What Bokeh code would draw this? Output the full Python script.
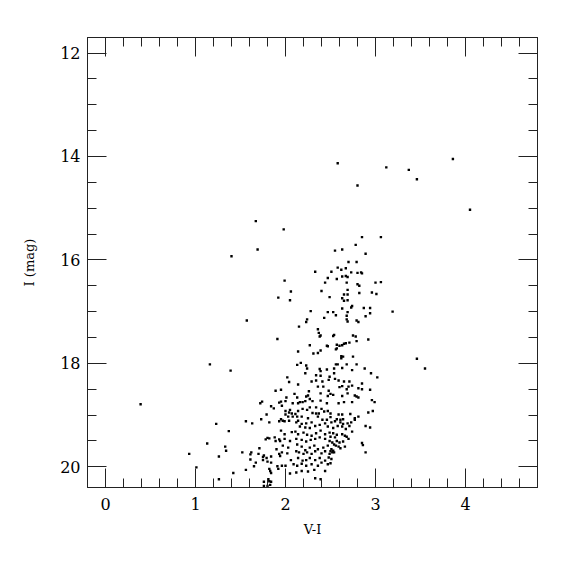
from bokeh.plotting import figure
from bokeh.models import Range1d, LinearAxis, SingleIntervalTicker, CustomJSTickFormatter
from bokeh.embed import file_html
from bokeh.resources import INLINE

# V-I colour and I magnitude of each star
vi = [2.58, 2.80, 3.12, 3.37, 3.46, 3.86, 4.05, 1.67, 1.98, 1.40, 1.69, 2.85, 3.06, 2.78, 2.55, 2.63, 2.89, 2.70, 2.79, 2.33,
      2.58, 2.62, 2.67, 2.51, 2.73, 2.80, 2.84, 2.85, 2.67, 2.63, 2.69, 2.47, 2.57, 2.68, 2.44, 1.99, 2.80, 2.82, 3.00, 3.06,
      2.06, 2.40, 2.69, 2.82, 2.96, 3.01, 2.65, 2.69, 1.92, 2.05, 2.49, 2.63, 2.65, 2.69, 2.74, 2.73, 2.63, 2.87, 2.94, 3.19,
      2.28, 2.47, 2.53, 2.69, 2.56, 2.94, 2.89, 2.68, 2.43, 2.24, 2.23, 2.68, 2.69, 2.79, 2.81, 2.15, 2.36, 2.37, 2.39, 2.38,
      2.54, 2.53, 2.75, 2.78, 1.91, 2.92, 2.79, 2.71, 2.67, 2.65, 2.63, 2.46, 2.47, 2.57, 2.60, 2.57, 2.56, 2.27, 2.39, 2.36,
      2.31, 2.14, 2.62, 2.64, 2.62, 2.75, 3.46, 3.55, 2.13, 2.17, 2.23, 2.24, 2.38, 2.46, 2.56, 2.58, 2.54, 2.68, 2.79, 2.74,
      2.88, 1.57, 1.16, 1.39, 0.39, 1.23, 1.37, 1.13, 1.33, 1.34, 0.93, 1.26, 1.01, 1.26, 1.42, 1.56, 1.76, 1.76, 1.81, 1.82,
      1.84, 1.80, 1.83, 1.56, 1.63, 1.82, 1.78, 1.80, 1.82, 1.88, 1.93, 1.89, 1.71, 1.90, 1.52, 1.62, 1.61, 1.70, 1.76, 1.75,
      1.84, 1.79, 1.93, 1.94, 1.61, 1.67, 1.65, 1.75, 1.80, 1.84, 1.91, 1.82, 1.83, 1.84, 1.92, 2.02, 2.04, 1.89, 1.95, 2.01,
      2.00, 1.95, 1.93, 1.96, 1.72, 1.74, 1.84, 1.87, 2.00, 2.04, 2.00, 1.79, 1.73, 1.95, 1.97, 2.04,
      2.39, 2.22, 2.34, 2.39, 2.49, 2.54, 2.63, 2.55, 2.14, 2.29, 2.34, 2.41, 2.48, 2.59, 2.65, 2.36, 2.42, 2.63, 2.60, 2.26,
      2.25, 2.23, 2.10, 2.13, 2.27, 2.39, 2.48, 2.50, 2.53, 2.47, 2.63, 2.22, 2.16, 2.19, 2.14, 2.08, 2.30, 2.39, 2.46, 2.59,
      2.65, 2.34, 2.05, 2.07, 2.11, 2.14, 2.19, 2.24, 2.27, 2.30, 2.34, 2.37, 2.40, 2.43, 2.47, 2.50, 2.59, 2.63, 2.03, 2.08,
      2.13, 2.18, 2.25, 2.36, 2.41, 2.46, 2.50, 2.57, 2.61, 2.64, 2.14,
      2.95, 3.02, 2.71, 2.74, 2.85, 2.81, 2.94, 2.70, 2.68, 2.69, 2.77, 2.81, 2.85, 2.74, 2.79, 2.96, 2.99, 2.72, 2.77, 2.81,
      2.92, 2.97, 2.71, 2.77, 2.89, 2.94, 2.85, 2.86, 2.89,
      2.51, 2.55, 2.61, 2.64, 2.69, 2.73, 2.58, 2.63, 2.67, 2.74, 2.53, 2.53, 2.57, 2.63, 2.66, 2.68, 2.50, 2.55, 2.57, 2.60,
      2.64, 2.70, 2.52, 2.54, 2.56, 2.59, 2.61, 2.66, 2.51, 2.53, 2.54, 2.52, 2.50, 2.51, 2.50,
      2.12, 2.18, 2.23, 2.29, 2.16, 2.22, 2.27, 2.33, 2.38, 2.44, 2.47, 1.93, 1.99, 1.95, 1.99, 2.07, 2.11, 2.14, 2.20, 2.24,
      2.29, 2.34, 2.39, 2.44, 2.49, 1.94, 1.99, 2.05, 2.12, 2.18, 2.23, 2.28, 2.33, 2.38, 2.44, 2.49, 1.97, 2.03, 2.13, 2.18,
      2.22, 2.27, 2.32, 2.36, 2.42, 2.47, 1.96, 2.02, 2.12, 2.15, 2.20, 2.24, 2.29, 2.33, 2.40, 2.44, 2.49, 2.06, 2.14, 2.19,
      2.23, 2.27, 2.33, 2.38, 2.44, 2.48, 1.96, 2.00, 2.09, 2.13, 2.18, 2.23, 2.29, 2.36, 2.40, 2.47, 2.05, 2.12, 2.18, 2.25,
      2.32, 2.44, 2.33, 2.39]

imag = [14.13, 14.56, 14.21, 14.26, 14.44, 14.05, 15.03, 15.25, 15.41, 15.93, 15.80, 15.56, 15.56, 15.71, 15.82, 15.80, 15.88, 16.04, 16.04, 16.23,
        16.15, 16.19, 16.16, 16.23, 16.24, 16.25, 16.24, 16.26, 16.31, 16.32, 16.33, 16.35, 16.37, 16.44, 16.44, 16.40, 16.47, 16.50, 16.44, 16.43,
        16.61, 16.60, 16.58, 16.64, 16.63, 16.66, 16.67, 16.67, 16.73, 16.78, 16.72, 16.74, 16.79, 16.78, 16.89, 16.92, 16.94, 16.93, 16.93, 17.00,
        16.99, 17.01, 17.01, 17.01, 17.07, 17.03, 17.09, 17.08, 17.12, 17.15, 17.20, 17.15, 17.19, 17.17, 17.20, 17.29, 17.34, 17.41, 17.46, 17.48,
        17.45, 17.47, 17.46, 17.48, 17.53, 17.54, 17.57, 17.60, 17.61, 17.62, 17.65, 17.66, 17.67, 17.64, 17.66, 17.71, 17.73, 17.65, 17.75, 17.80,
        17.81, 17.77, 17.86, 17.87, 17.90, 17.87, 17.91, 18.10, 18.03, 17.99, 18.04, 18.10, 18.11, 18.12, 18.02, 18.02, 18.10, 18.02, 18.02, 18.13,
        18.10, 17.17, 18.02, 18.14, 18.79, 19.17, 19.31, 19.55, 19.61, 19.69, 19.75, 19.80, 20.01, 20.24, 20.12, 20.06, 20.29, 20.37, 20.24, 20.28,
        20.29, 20.37, 20.35, 19.12, 19.16, 19.14, 19.47, 19.44, 19.45, 19.43, 19.47, 19.50, 19.64, 19.66, 19.72, 19.72, 19.76, 19.75, 19.78, 19.81,
        19.80, 19.83, 19.75, 19.79, 19.86, 19.92, 19.99, 19.87, 19.90, 19.92, 19.99, 20.04, 20.08, 20.12, 20.04, 18.27, 18.36, 18.53, 18.51, 18.66,
        18.73, 18.74, 18.76, 18.82, 18.77, 18.74, 18.83, 18.87, 18.92, 18.95, 18.99, 18.99, 19.08, 19.08, 19.11, 19.11,
        18.15, 18.19, 18.23, 18.24, 18.26, 18.19, 18.09, 18.30, 18.41, 18.35, 18.33, 18.35, 18.32, 18.33, 18.35, 18.45, 18.45, 18.44, 18.46, 18.54,
        18.62, 18.64, 18.59, 18.66, 18.69, 18.58, 18.53, 18.59, 18.61, 18.63, 18.63, 18.73, 18.75, 18.75, 18.77, 18.77, 18.73, 18.72, 18.77, 18.77,
        18.75, 18.85, 18.90, 18.97, 18.98, 18.92, 18.88, 18.90, 18.85, 18.96, 18.97, 18.97, 18.88, 18.93, 18.92, 18.97, 18.99, 18.99, 19.03, 19.03,
        19.03, 19.03, 19.06, 19.03, 19.09, 19.09, 19.04, 19.08, 19.09, 19.08, 19.11,
        18.19, 18.27, 18.35, 18.43, 18.39, 18.48, 18.51, 18.45, 18.50, 18.58, 18.62, 18.66, 18.50, 18.75, 18.64, 18.71, 18.75, 18.98, 19.06, 19.03,
        18.95, 18.92, 19.21, 19.09, 19.21, 19.24, 19.54, 19.58, 19.72,
        19.14, 19.12, 19.14, 19.17, 19.16, 19.14, 19.21, 19.22, 19.27, 19.32, 19.25, 19.35, 19.38, 19.37, 19.40, 19.42, 19.42, 19.43, 19.50, 19.53,
        19.51, 19.46, 19.53, 19.57, 19.59, 19.61, 19.64, 19.61, 19.66, 19.69, 19.72, 19.72, 19.70, 19.85, 19.93,
        19.14, 19.17, 19.16, 19.14, 19.22, 19.24, 19.25, 19.21, 19.19, 19.16, 19.22, 19.12, 19.12, 19.30, 19.37, 19.33, 19.32, 19.37, 19.34, 19.38,
        19.40, 19.35, 19.30, 19.37, 19.34, 19.50, 19.46, 19.50, 19.46, 19.48, 19.51, 19.48, 19.46, 19.43, 19.46, 19.50, 19.59, 19.63, 19.57, 19.61,
        19.68, 19.63, 19.59, 19.66, 19.63, 19.59, 19.72, 19.74, 19.70, 19.72, 19.75, 19.72, 19.75, 19.70, 19.74, 19.70, 19.75, 19.87, 19.83, 19.88,
        19.87, 19.83, 19.87, 19.83, 19.88, 19.82, 19.98, 19.98, 19.95, 19.98, 19.94, 19.98, 19.95, 19.98, 19.92, 19.95, 20.13, 20.11, 20.08, 20.09,
        20.06, 20.08, 20.22, 20.24]

x_label = "V-I"
y_label = "I (mag)"

FONT = "DejaVu Serif"
INK = "#222222"

p = figure(width=563, height=563, output_backend="svg", toolbar_location=None,
           x_range=Range1d(-0.2, 4.8), y_range=Range1d(20.4, 11.7),
           min_border_left=87, min_border_right=26, min_border_top=37, min_border_bottom=76,
           x_axis_type=None, y_axis_type=None)
p.outline_line_color = INK
p.outline_line_width = 1
p.xgrid.visible = False
p.ygrid.visible = False
p.background_fill_color = "white"
p.border_fill_color = "white"


def make_axis(kind, labels):
    if kind == "x":
        ticker = SingleIntervalTicker(interval=1, num_minor_ticks=5)
    else:
        ticker = SingleIntervalTicker(interval=2, num_minor_ticks=4)
    ax = LinearAxis(ticker=ticker)
    ax.major_tick_in = 19
    ax.major_tick_out = 0
    ax.minor_tick_in = 9
    ax.minor_tick_out = 0
    ax.axis_line_color = INK
    ax.major_tick_line_color = INK
    ax.minor_tick_line_color = INK
    ax.major_label_text_font = FONT
    ax.major_label_text_font_size = "16px"
    ax.major_label_text_color = "black"
    ax.axis_label_text_font = FONT
    ax.axis_label_text_font_size = "13px"
    ax.axis_label_text_font_style = "normal"
    ax.axis_label_text_color = "black"
    if not labels:
        ax.formatter = CustomJSTickFormatter(code="return ''")
        ax.major_label_standoff = 0
    return ax


xb = make_axis("x", True)
xb.axis_label = x_label
xb.major_label_standoff = 10
xb.axis_label_standoff = 9
p.add_layout(xb, "below")

yl = make_axis("y", True)
yl.axis_label = y_label
yl.major_label_standoff = 7
yl.axis_label_standoff = 20
p.add_layout(yl, "left")

p.add_layout(make_axis("x", False), "above")
p.add_layout(make_axis("y", False), "right")

p.scatter(vi, imag, marker="square", size=2.4, color="black", line_width=0)

open("out.html", "w").write(file_html(p, INLINE))
